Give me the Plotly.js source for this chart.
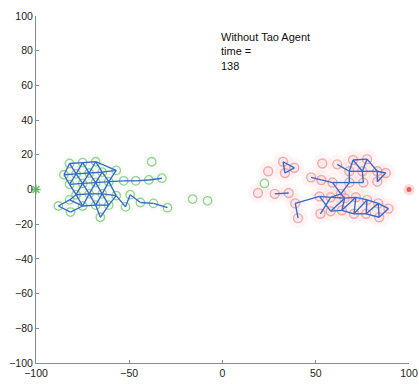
<!DOCTYPE html>
<html>
<head>
<meta charset="utf-8">
<script src="https://cdn.plot.ly/plotly-3.0.1.min.js"></script>
<style>html,body{margin:0;padding:0;background:#fff;}#chart{width:419px;height:384px;}</style>
</head>
<body>
<div id="chart"></div>
<script>
// Green agents (left swarm + strays)
const greenX = [-82, -75, -68, -85, -78.5, -71.5, -64.5, -57, -82, -75, -68, -61, -53, -46.5, -39.5, -32.5,
  -78.5, -71.5, -64.5, -57, -88, -81.5, -82, -75, -68, -61, -65.5, -52, -49.5, -44, -37, -29.5,
  -38, -16, -8, 22.5];
const greenY = [15, 15.5, 16, 8.5, 9, 9.5, 10, 11, 3, 3.5, 4, 4.5, 5, 5, 5.5, 6.5,
  -3, -2.5, -2.5, -3.5, -9.5, -13, -6, -9.5, -9, -9, -16, -10, -3, -7.5, -8, -10.5,
  16, -5.5, -6.5, 3.5];
const greenEdges = [[0,1],[1,2],[0,3],[0,4],[1,4],[1,5],[2,5],[2,6],[2,7],
  [3,4],[4,5],[5,6],[6,7],[3,8],[4,8],[4,9],[5,9],[5,10],[6,10],[6,11],[7,11],
  [8,9],[9,10],[10,11],[11,12],[12,13],[13,14],[14,15],
  [8,16],[9,16],[9,17],[10,17],[10,18],[11,18],[11,19],
  [16,17],[17,18],[18,19],[19,27],[27,28],[28,29],[29,30],[30,31],
  [16,22],[16,23],[17,23],[17,24],[18,24],[18,25],[19,25],
  [20,22],[20,21],[21,23],[22,23],[23,24],[24,25],[24,26],[25,26]];
// Red agents (right swarm)
const redX = [32.5, 38.5, 33.5, 24.5, 19, 28, 35.5, 53.5, 61.5, 70, 77.5, 68, 75, 83, 87.5, 83, 75.5, 68,
  47.5, 53, 59, 63.5, 39, 40.5, 52, 58, 52.5, 58, 0, 65.5, 71.5, 77.5, 83.5, 89, 64, 70.5, 77, 84];
const redY = [16, 12.5, 9.5, 10.5, -2, -2.5, -2, 15, 14.5, 17, 17.5, 10.5, 10.5, 10.5, 9.5, 4.5, 4, 4,
  7, 5.5, 4, -2.5, -8, -16.5, -4, -4.5, -14, -12.5, 0, -5, -4.5, -6, -8, -11, -12, -14, -14, -16];
const redEdges = [[0,1],[1,2],[2,0],[5,6],
  [8,11],[9,10],[9,11],[9,12],[10,12],[10,13],[11,12],[12,13],[13,14],[14,15],[15,13],
  [11,17],[17,16],[16,12],[18,19],[19,20],[20,17],[20,21],[21,17],
  [22,23],[22,24],[24,25],[25,21],[24,27],[25,26],
  [21,29],[25,29],[29,30],[30,31],[31,32],[32,33],[27,34],[34,35],[35,36],[36,37],
  [27,29],[29,34],[34,30],[30,35],[35,31],[31,36],[36,32],[32,37],[37,33]];
const redIdx = redX.map((_, i) => i).filter(i => i !== 28);
// Sources
const greenHome = {x: [-100], y: [0]};
const redHome = {x: [100], y: [0]};
const titleLines = ["Without Tao Agent", "time =", "138"];

function edgeXY(xs, ys, edges) {
  const ex = [], ey = [];
  edges.forEach(([a, b]) => { ex.push(xs[a], xs[b], null); ey.push(ys[a], ys[b], null); });
  return {ex, ey};
}
const ge = edgeXY(greenX, greenY, greenEdges);
const re = edgeXY(redX, redY, redEdges);
const rx = redIdx.map(i => redX[i]), ry = redIdx.map(i => redY[i]);

const traces = [
  {x: rx, y: ry, mode: 'markers', type: 'scatter', hoverinfo: 'skip',
   marker: {size: 20, color: 'rgba(245,150,150,0.09)', line: {width: 0}}},
  {x: greenX, y: greenY, mode: 'markers', type: 'scatter', hoverinfo: 'skip',
   marker: {size: 16, color: 'rgba(235,200,190,0.08)', line: {width: 0}}},
  {x: rx, y: ry, mode: 'markers', type: 'scatter', hoverinfo: 'skip',
   marker: {size: 9, symbol: 'circle', color: 'rgba(250,205,205,0.35)', line: {width: 1.4, color: 'rgba(240,140,140,0.7)'}}},
  {x: greenX, y: greenY, mode: 'markers', type: 'scatter', hoverinfo: 'skip',
   marker: {size: 8.5, symbol: 'circle-open', color: 'rgb(140,215,140)', line: {width: 1.3}}},
  {x: ge.ex, y: ge.ey, mode: 'lines', type: 'scatter', hoverinfo: 'skip',
   line: {color: 'rgb(50,105,205)', width: 1.35}},
  {x: re.ex, y: re.ey, mode: 'lines', type: 'scatter', hoverinfo: 'skip',
   line: {color: 'rgb(50,105,205)', width: 1.35}},
  {x: greenHome.x, y: greenHome.y, mode: 'markers', type: 'scatter', cliponaxis: false, hoverinfo: 'skip',
   marker: {size: 8, symbol: 'asterisk-open', color: 'rgb(100,205,100)', line: {width: 1.5, color: 'rgb(100,205,100)'}}},
  {x: redHome.x, y: redHome.y, mode: 'markers', type: 'scatter', cliponaxis: false, hoverinfo: 'skip',
   marker: {size: 11, color: 'rgba(245,150,150,0.35)', line: {width: 0}}},
  {x: redHome.x, y: redHome.y, mode: 'markers', type: 'scatter', cliponaxis: false, hoverinfo: 'skip',
   marker: {size: 5, color: 'rgb(240,90,90)', line: {width: 0}}}
];

const axisCommon = {
  range: [-100, 100], showgrid: false, zeroline: false, showline: true,
  linecolor: '#8a8a8a', linewidth: 1, ticks: 'inside', ticklen: 3, tickcolor: '#8a8a8a',
  tickfont: {family: 'Liberation Sans, Arial, sans-serif', size: 10.5, color: '#222'},
  fixedrange: true
};
const layout = {
  width: 419, height: 384,
  margin: {l: 36, r: 10, t: 16, b: 21, pad: 0},
  paper_bgcolor: '#fff', plot_bgcolor: '#fff',
  showlegend: false,
  xaxis: Object.assign({}, axisCommon, {tickvals: [-100, -50, 0, 50, 100]}),
  yaxis: Object.assign({}, axisCommon, {tickvals: [-100, -80, -60, -40, -20, 0, 20, 40, 60, 80, 100]}),
  annotations: [{
    x: -2, y: 92.7, xref: 'x', yref: 'y', xanchor: 'left', yanchor: 'top', align: 'left',
    showarrow: false, text: titleLines.join('<br>'),
    font: {family: 'Liberation Sans, Arial, sans-serif', size: 11, color: '#111'}
  }]
};
Plotly.newPlot('chart', traces, layout, {staticPlot: true, displayModeBar: false});
</script>
</body>
</html>
